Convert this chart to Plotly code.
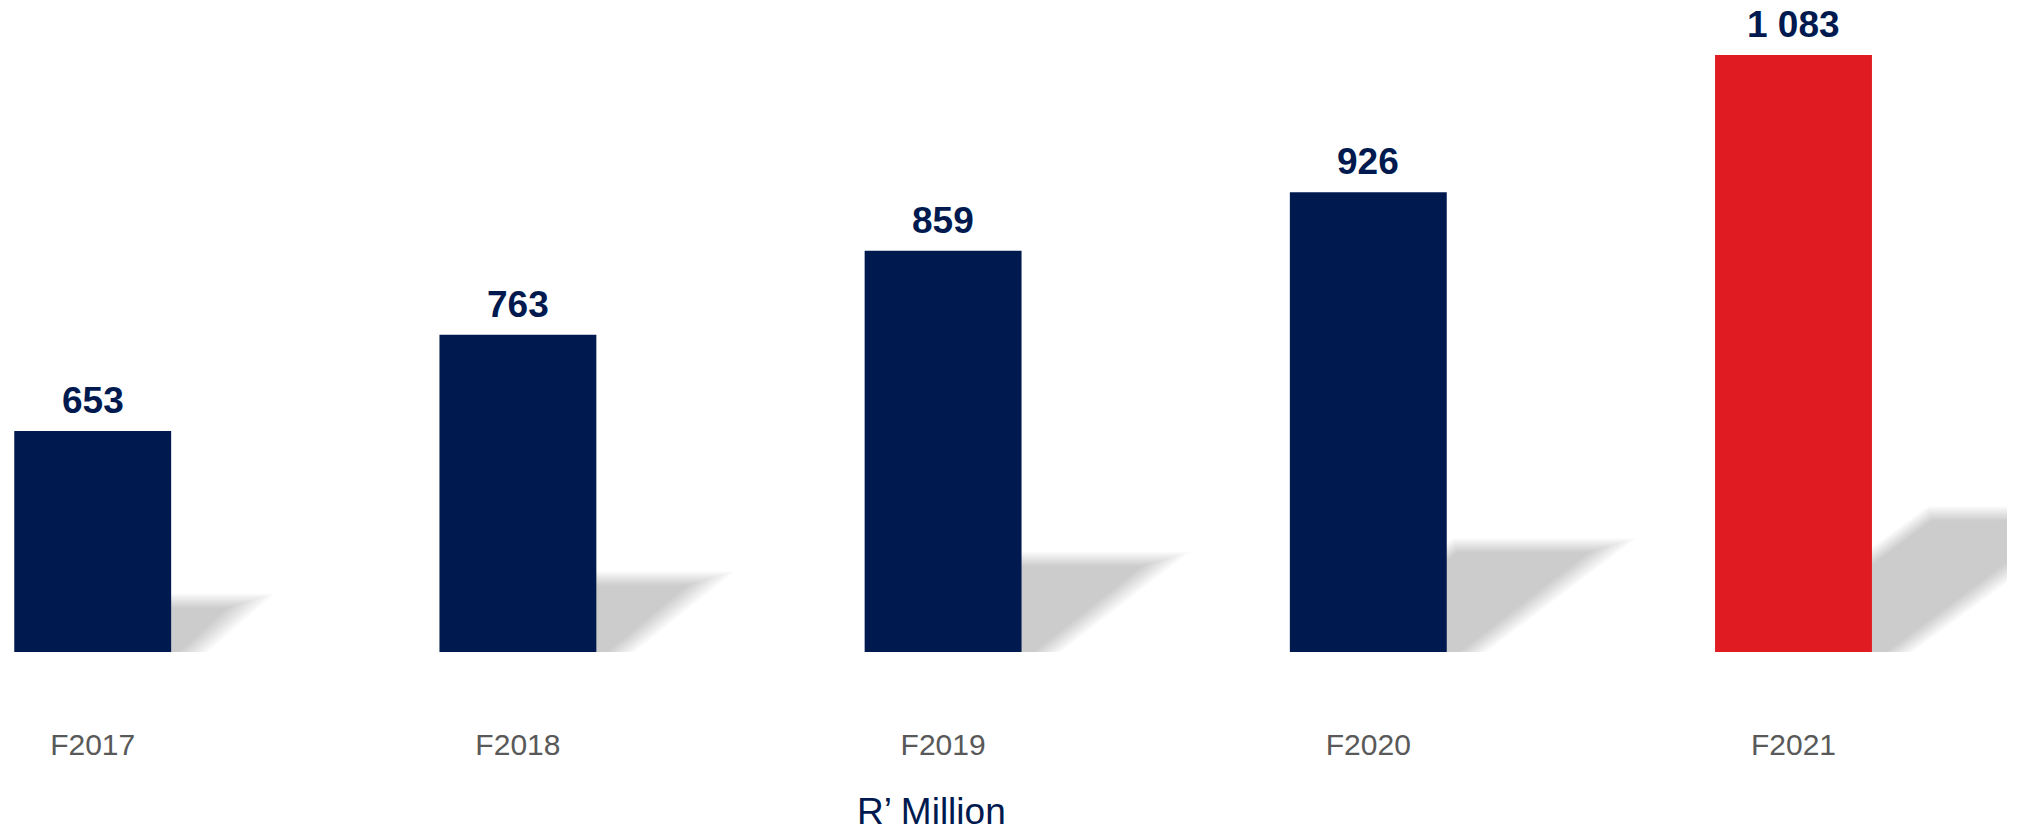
import numpy as np
import plotly.graph_objects as go

# Revenue by financial year (R' million)
years = ["F2017", "F2018", "F2019", "F2020", "F2021"]
values = [653, 763, 859, 926, 1083]
bar_colors = ["#001a4f", "#001a4f", "#001a4f", "#001a4f", "#e01b22"]

NAVY = "#001a4f"
W, H = 2019, 834
M_L, M_R, M_T, M_B = 0, 0, 10, 182
Y0 = 400                      # value axis starts here
PX_PER_UNIT = 0.874           # vertical pixels per R' million
PX_PER_CAT = 425.2            # horizontal pixels per category
FIRST_CENTER_PX = 92.7
BAR_W = 0.369

plot_h = H - M_T - M_B
plot_w = W - M_L - M_R
y_range = [Y0, Y0 + plot_h / PX_PER_UNIT]
x_min = -FIRST_CENTER_PX / PX_PER_CAT
x_range = [x_min, x_min + plot_w / PX_PER_CAT]


def fmt(v):
    return f"{v:,}".replace(",", " ")


def to_data(px, py):
    """Pixel offsets from (category 0 centre, axis base) -> data coords."""
    return px / PX_PER_CAT, Y0 + py / PX_PER_UNIT


fig = go.Figure()
fig.add_trace(go.Bar(
    x=list(range(len(years))),
    y=values,
    width=BAR_W,
    marker=dict(color=bar_colors, line=dict(width=0)),
    hoverinfo="skip",
))

# Soft cast shadows: a skewed copy of each bar's footprint, blurred by
# stacking slightly grown/shrunk copies with a linear opacity ramp.
shapes = []
N_LAYERS = 10
BLUR = 7.0
bar_w_px = BAR_W * PX_PER_CAT
for i, v in enumerate(values):
    h_px = (v - Y0) * PX_PER_UNIT
    sh_dy = 0.232 * h_px
    sh_dx = 0.36 * h_px
    cx = i * PX_PER_CAT
    side_len = np.hypot(sh_dx, sh_dy)
    grow = np.linspace(BLUR, -BLUR, N_LAYERS)
    for k, e in enumerate(grow):
        hx = e * side_len / sh_dy          # horizontal shift of slanted sides
        xl = cx - bar_w_px / 2 - hx
        xr = cx + bar_w_px / 2 + hx
        yb = -20.0
        yt = sh_dy + e
        pts = [(xl, yb), (xr, yb),
               (xr + sh_dx * (yt / sh_dy), yt), (xl + sh_dx * (yt / sh_dy), yt)]
        d = [to_data(px, py) for px, py in pts]
        path = "M " + " L ".join(f"{a:.5f} {b:.3f}" for a, b in d) + " Z"
        alpha = 1.0 / (N_LAYERS - k)
        shapes.append(dict(type="path", path=path, xref="x", yref="y",
                           layer="below", fillcolor="#cccccc", opacity=alpha,
                           line=dict(width=0)))

# the shadows stop short of the right edge
cut_x, _ = to_data(2007 - FIRST_CENTER_PX, 0)
shapes.append(dict(type="rect", xref="x", yref="y",
                   x0=cut_x, x1=x_range[1] + 1, y0=y_range[0] - 50, y1=y_range[1],
                   layer="below", fillcolor="white", line=dict(width=0)))

annotations = []
for i, v in enumerate(values):
    annotations.append(dict(
        x=i, y=v, xref="x", yref="y", text=f"<b>{fmt(v)}</b>",
        showarrow=False, yanchor="bottom", yshift=8,
        font=dict(family="Liberation Sans, Arial, sans-serif", size=37, color=NAVY),
    ))

annotations.append(dict(
    x=931 / W, y=(M_T + plot_h - 811) / plot_h, xref="paper", yref="paper",
    text="R’ Million", showarrow=False, xanchor="center", yanchor="middle",
    font=dict(family="Liberation Sans, Arial, sans-serif", size=37, color=NAVY),
))

fig.update_layout(
    width=W, height=H,
    margin=dict(l=M_L, r=M_R, t=M_T, b=M_B, pad=0),
    paper_bgcolor="white", plot_bgcolor="white",
    showlegend=False,
    shapes=shapes,
    annotations=annotations,
    font=dict(family="Liberation Sans, Arial, sans-serif"),
    xaxis=dict(
        range=x_range,
        tickmode="array",
        tickvals=list(range(len(years))),
        ticktext=years,
        tickfont=dict(size=30, color="#595959"),
        ticks="", showline=False, showgrid=False, zeroline=False,
        ticklabelstandoff=72,
        fixedrange=True,
    ),
    yaxis=dict(
        range=y_range, visible=False, showgrid=False, zeroline=False,
        fixedrange=True,
    ),
)

fig.write_html("out.html", config={"displayModeBar": False})
